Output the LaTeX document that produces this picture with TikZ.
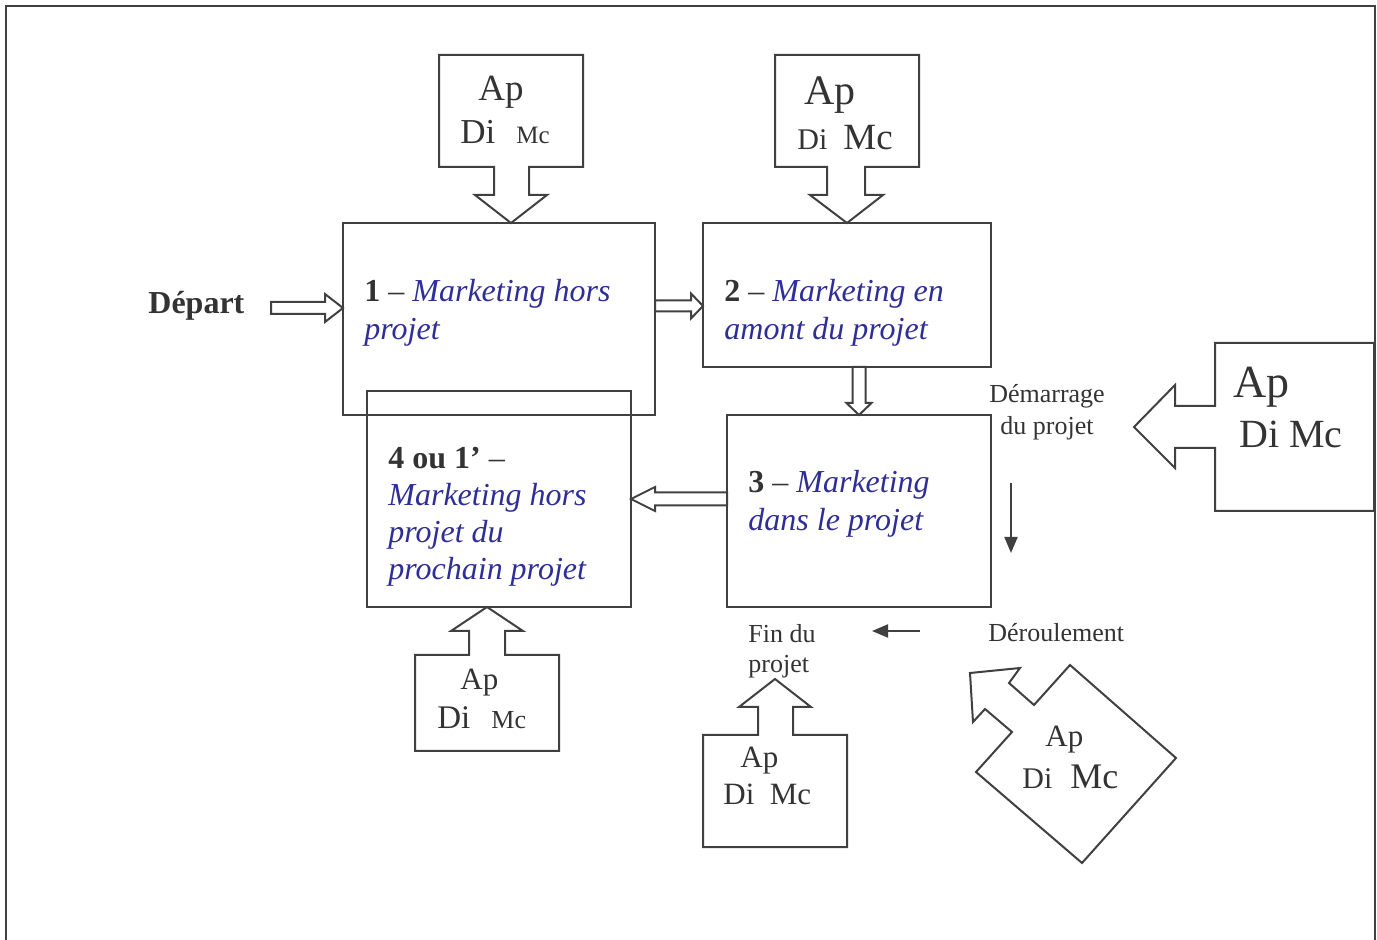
\documentclass[tikz,border=0pt]{standalone}
\usepackage{fontspec}
\setmainfont{Liberation Serif}
\usetikzlibrary{calc, arrows.meta}
\definecolor{linegray}{RGB}{64,64,64}
\definecolor{textgray}{RGB}{51,51,51}
\definecolor{stageblue}{RGB}{46,46,150}
\newcommand{\mkt}[1]{\textcolor{stageblue}{\textit{#1}}}
\newcommand{\fsz}[1]{\fontsize{#1}{#1}\selectfont}

\begin{document}
\begin{tikzpicture}[x=0.5pt, y=-0.5pt,
  line/.style={draw=linegray, line width=1pt, line join=miter},
  box/.style={line, rectangle, inner sep=0pt, outer sep=0pt},
  stagetxt/.style={anchor=base west, align=left, inner sep=0pt, text=textgray,
                   font=\fontsize{16}{19}\selectfont},
  lbl/.style={inner sep=0pt, text=textgray, font=\fontsize{13}{15}\selectfont},
  src/.style={anchor=base west, inner sep=0pt, text=textgray},
  thinarrow/.style={draw=linegray, line width=1pt, -{Triangle[length=8pt,width=6.5pt]}},
]
\useasboundingbox (0,0) rectangle (1377,940);
% outer frame
\draw[line, line width=1.2pt] (6,940) -- (6,6) -- (1375,6) -- (1375,940);

% the four stages
\node[box, minimum width=156pt, minimum height=96pt] (m1) at (499,319) {};
\node[box, minimum width=144pt, minimum height=72pt] (m2) at (847,295) {};
\node[box, minimum width=132pt, minimum height=96pt] (m3) at (859,511) {};
\node[box, minimum width=132pt, minimum height=108pt] (m4) at (499,499) {};

% base = last line
\node[stagetxt] (t1) at (364,340) {\textbf{1} -- \mkt{Marketing hors}\\\mkt{projet}};
\node[stagetxt] (t2) at (724,340) {\textbf{2} -- \mkt{Marketing en}\\\mkt{amont du projet}};
\node[stagetxt] (t3) at (748,531) {\textbf{3} -- \mkt{Marketing}\\\mkt{dans le projet}};
\node[stagetxt, font=\fontsize{16}{18.5}\selectfont] (t4) at (388,580)
  {\textbf{4 ou 1'} --\\\mkt{Marketing hors}\\\mkt{projet du}\\\mkt{prochain projet}};

\node[stagetxt, font=\fontsize{16}{19}\bfseries] (depart) at (148,314) {Départ};

% block arrows between stages
\draw[line] ($(m1.west)+(0,-11)$) -- ++(-18,-14) -- ++(0,8) -- ++(-54,0)
  -- ++(0,12) -- ++(54,0) -- ++(0,8) -- cycle;
\draw[line] ($(m2.west)+(0,11)$) -- ++(-12,-12.5) -- ++(0,7) -- ++(-36,0)
  -- ++(0,11) -- ++(36,0) -- ++(0,7) -- cycle;
\draw[line] (m3.north) -- ++(-12.5,-12) -- ++(6,0) -- ++(0,-36)
  -- ++(13,0) -- ++(0,36) -- ++(6,0) -- cycle;
\draw[line] (m4.east) -- ++(24,-12) -- ++(0,5.5) -- ++(72,0)
  -- ++(0,13) -- ++(-72,0) -- ++(0,5.5) -- cycle;

% Ap / Di / Mc sources
\draw[line] ($(m1.north)+(12,0)$) -- ++(-36,-28) -- ++(19,0) -- ++(0,-28) -- ++(-55,0)
  -- ++(0,-112) -- ++(144,0) -- ++(0,112) -- ++(-54,0) -- ++(0,28) -- ++(18,0) -- cycle;
\node[src, font=\fsz{18.5}] (apA) at (478,101) {Ap};
\node[src, font=\fsz{17.5}] (diA) at (460,144) {Di};
\node[src, font=\fsz{12.5}] (mcA) at (516,144) {Mc};

\draw[line] (m2.north) -- ++(-37,-28) -- ++(17,0) -- ++(0,-28) -- ++(-52,0)
  -- ++(0,-112) -- ++(144,0) -- ++(0,112) -- ++(-54,0) -- ++(0,28) -- ++(18,0) -- cycle;
\node[src, font=\fsz{21}] (apB) at (804,105) {Ap};
\node[src, font=\fsz{15}] (diB) at (797,150) {Di};
\node[src, font=\fsz{18.5}] (mcB) at (843,150) {Mc};

\coordinate (tipR) at (1134,427);
\draw[line] (tipR) -- ++(41,-42) -- ++(0,21) -- ++(40,0) -- ++(0,-63) -- ++(159,0)
  -- ++(0,168) -- ++(-159,0) -- ++(0,-63) -- ++(-40,0) -- ++(0,20) -- cycle;
\node[src, font=\fsz{23}] (apR) at (1233,398) {Ap};
\node[src, font=\fsz{20}] (dimcR) at (1239,448) {Di Mc};

\draw[line] ($(m4.south)+(-12,0)$) -- ++(-36,24) -- ++(18,0) -- ++(0,24) -- ++(-54,0)
  -- ++(0,96) -- ++(144,0) -- ++(0,-96) -- ++(-54,0) -- ++(0,-24) -- ++(18,0) -- cycle;
\node[src, font=\fsz{15.5}] (apL) at (460,690) {Ap};
\node[src, font=\fsz{16.5}] (diL) at (437,729) {Di};
\node[src, font=\fsz{13}] (mcL) at (491,729) {Mc};

\coordinate (tipF) at (775,679);
\draw[line] (tipF) -- ++(-36,28) -- ++(19,0) -- ++(0,28) -- ++(-55,0)
  -- ++(0,112) -- ++(144,0) -- ++(0,-112) -- ++(-54,0) -- ++(0,-28) -- ++(18,0) -- cycle;
\node[src, font=\fsz{15.5}] (apF) at (740,768) {Ap};
\node[src, font=\fsz{15.5}] (dimcF) at (723,805) {Di\ \ Mc};

\draw[line] (1070,665) -- (1176,758) -- (1082,863) -- (976,772) -- (1012,732)
  -- (985,709) -- (973,722) -- (970,673) -- (1020,668) -- (1009,683) -- (1034,705) -- cycle;
\node[src, font=\fsz{15.5}] (apD) at (1045,747) {Ap};
\node[src, font=\fsz{15}] (diD) at (1022,789) {Di};
\node[src, font=\fsz{18}] (mcD) at (1070,789) {Mc};

% project course
\node[lbl, anchor=base, align=center, font=\fontsize{13}{16}\selectfont] (demarrage) at (1047,435)
  {Démarrage\\du projet};
\node[lbl, anchor=base west] (deroul) at (988,642) {Déroulement};
\node[lbl, anchor=base west, align=left] (fin) at (748,673) {Fin du\\projet};
\coordinate (downA) at (1011,483);
\coordinate (downB) at (1011,553);
\draw[thinarrow] (downA) -- (downB);
\coordinate (leftA) at (920,631);
\coordinate (leftB) at (872,631);
\draw[thinarrow] (leftA) -- (leftB);
\end{tikzpicture}
\end{document}
